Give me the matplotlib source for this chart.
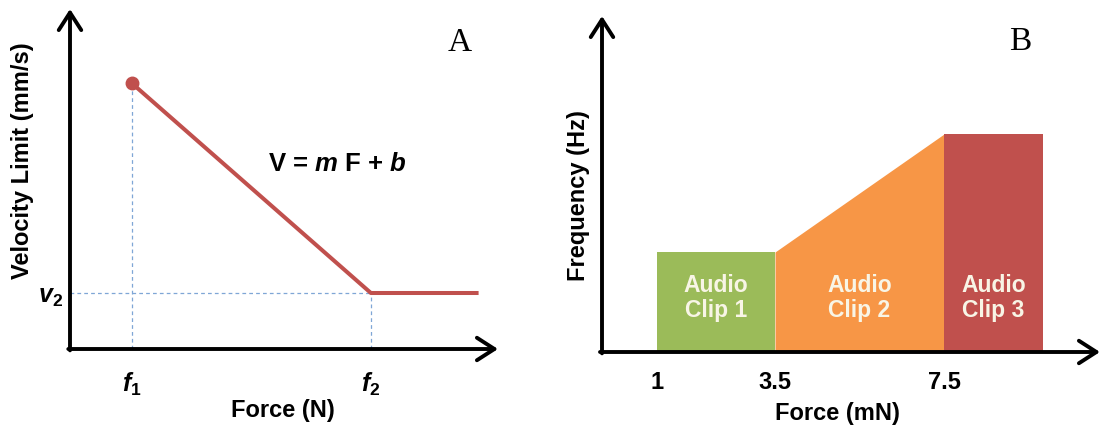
import numpy as np
import matplotlib
matplotlib.use("Agg")
import matplotlib.pyplot as plt

plt.rcParams['font.family'] = ['Liberation Sans', 'DejaVu Sans']
plt.rcParams['mathtext.fontset'] = 'custom'
plt.rcParams['mathtext.rm'] = 'Liberation Sans:bold'
plt.rcParams['mathtext.it'] = 'Liberation Sans:bold:italic'
plt.rcParams['mathtext.bf'] = 'Liberation Sans:bold'
plt.rcParams['mathtext.bfit'] = 'Liberation Sans:bold:italic'

# ---- Panel A data (schematic units) ----
force_a = [1.0, 2.0, 2.45]          # f1, f2, end of plateau
velocity_a = [4.75, 1.0, 1.0]       # v1, v2, v2
f_ticks = [1.0, 2.0]
f_tick_labels = [r'$\mathbfit{f}_\mathbf{1}$', r'$\mathbfit{f}_\mathbf{2}$']
v_ticks = [1.0]
v_tick_labels = [r'$\mathbfit{v}_\mathbf{2}$']

# ---- Panel B data ----
clip_starts = [1.0, 3.5, 7.5]
clip_ends = [3.5, 7.5, 10.0]
freq_start = [1.0, 1.0, 2.18]
freq_end = [1.0, 2.18, 2.18]
clip_labels = ['Audio\nClip 1', 'Audio\nClip 2', 'Audio\nClip 3']
clip_colors = ['#9BBB59', '#F79646', '#C0504D']
b_ticks = [1, 3.5, 7.5]
b_tick_labels = ['1', '3.5', '7.5']

W, H = 1110, 427
fig = plt.figure(figsize=(W / 100, H / 100), dpi=100)

def px_axes(left, top, right, bottom):
    return fig.add_axes([left / W, 1 - bottom / H, (right - left) / W, (bottom - top) / H])

def draw_arrows(ax):
    for s in ax.spines.values():
        s.set_visible(False)
    ap = dict(arrowstyle='->,head_length=0.7,head_width=0.45', lw=2.8, color='black',
              mutation_scale=18, shrinkA=0, shrinkB=0)
    ax.annotate('', xy=(1, 0), xytext=(-0.004, 0), xycoords='axes fraction',
                arrowprops=ap, annotation_clip=False)
    ax.annotate('', xy=(0, 1), xytext=(0, -0.004), xycoords='axes fraction',
                arrowprops=ap, annotation_clip=False)

# ================= Panel A =================
axA = px_axes(70, 10, 498, 350)
draw_arrows(axA)
axA.set_xlim(1 - 62 / 241, 2 + 128 / 241)
axA.set_ylim(0, 340 / 56)

dash_color = '#7FA6D6'
axA.plot([force_a[0], force_a[0]], [0, velocity_a[0]], ls=(0, (3, 2.5)), lw=0.9, color=dash_color)
axA.plot([force_a[1], force_a[1]], [0, velocity_a[1]], ls=(0, (3, 2.5)), lw=0.9, color=dash_color)
axA.plot([axA.get_xlim()[0], force_a[1]], [velocity_a[1], velocity_a[1]], ls=(0, (3, 2.5)), lw=0.9, color=dash_color)

axA.plot(force_a, velocity_a, color='#C0504D', lw=2.9, solid_capstyle='butt')
axA.plot([force_a[0]], [velocity_a[0]], 'o', color='#C0504D', ms=9)

axA.set_xticks(f_ticks)
axA.set_xticklabels(f_tick_labels, fontsize=18)
axA.set_yticks(v_ticks)
axA.set_yticklabels(v_tick_labels, fontsize=18)
axA.tick_params(axis='x', length=0, pad=15)
axA.tick_params(axis='y', length=0, pad=5)

axA.set_xlabel('Force (N)', fontsize=17, fontweight='bold')
axA.xaxis.set_label_coords(0.498, -0.178)
axA.xaxis.label.set_va('center')
axA.set_ylabel('Velocity Limit (mm/s)', fontsize=17, fontweight='bold')
axA.yaxis.set_label_coords(-0.112, 0.556)
axA.yaxis.label.set_va('center')

axA.text(0.624, 0.547, r'V = $\mathbfit{m}$ F + $\mathbfit{b}$', transform=axA.transAxes,
         fontsize=18.5, fontweight='bold', ha='center', va='center')
axA.text(0.911, 0.905, 'A', transform=axA.transAxes, fontsize=24,
         family='Liberation Serif', ha='center', va='center')

# ================= Panel B =================
axB = px_axes(602, 17, 1100, 353)
knots = np.array([0.0, 1.0, 3.5, 7.5, 10.0, 12.0])
pix = np.array([0.0, 55.0, 173.0, 342.0, 441.0, 498.0])
axB.set_xscale('function', functions=(lambda x: np.interp(x, knots, pix),
                                      lambda p: np.interp(p, pix, knots)))
axB.set_xlim(0, 12)
axB.set_ylim(0, 3.36)
draw_arrows(axB)

for x0, x1, y0, y1, c, lab in zip(clip_starts, clip_ends, freq_start, freq_end, clip_colors, clip_labels):
    axB.fill_between([x0, x1], [y0, y1], 0, color=c, lw=0)
    xc = float(np.interp((np.interp(x0, knots, pix) + np.interp(x1, knots, pix)) / 2, pix, knots))
    axB.text(xc, 0.55, lab, ha='center', va='center', fontsize=16.5, fontweight='bold',
             color='#F8F5E6', linespacing=1.15)

axB.set_xticks(b_ticks)
axB.set_xticklabels(b_tick_labels, fontsize=17, fontweight='bold')
axB.xaxis.set_minor_locator(matplotlib.ticker.NullLocator())
axB.set_yticks([])
axB.tick_params(axis='x', length=0, pad=13)

axB.set_xlabel('Force (mN)', fontsize=17, fontweight='bold')
axB.xaxis.set_label_coords(0.472, -0.179)
axB.xaxis.label.set_va('center')
axB.set_ylabel('Frequency (Hz)', fontsize=17, fontweight='bold')
axB.yaxis.set_label_coords(-0.048, 0.47)
axB.yaxis.label.set_va('center')

axB.text(0.839, 0.925, 'B', transform=axB.transAxes, fontsize=24,
         family='Liberation Serif', ha='center', va='center')

fig.savefig('out.png', dpi=100)
